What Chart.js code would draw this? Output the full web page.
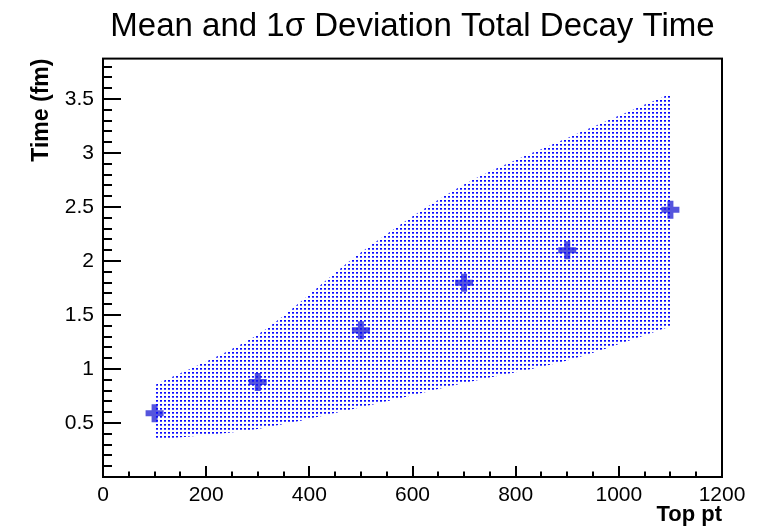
<!DOCTYPE html>
<html>
<head>
<meta charset="utf-8">
<script src="https://cdn.jsdelivr.net/npm/chart.js@4/dist/chart.umd.min.js"></script>
<style>
  body { margin: 0; background: #fff; }
</style>
</head>
<body>
<canvas id="graficoDecaimento" width="761" height="528"></canvas>
<script>
// Dados
const topPt = [100, 300, 500, 700, 900, 1100];
const tempoMedio = [0.59, 0.88, 1.36, 1.80, 2.10, 2.475];
const bandaSuperior = [0.85, 1.32, 2.08, 2.71, 3.14, 3.55];
const bandaInferior = [0.345, 0.445, 0.645, 0.87, 1.08, 1.395];
const ticksX = [0, 200, 400, 600, 800, 1000, 1200];
const ticksY = [0.5, 1, 1.5, 2, 2.5, 3, 3.5];

const fonte = "'Liberation Sans', Arial, Helvetica, sans-serif";

const canvas = document.getElementById('graficoDecaimento');
const ctx = canvas.getContext('2d');

// Padrão pontilhado (estilo ROOT)
const tile = document.createElement('canvas');
tile.width = 4;
tile.height = 4;
const tctx = tile.getContext('2d');
tctx.fillStyle = 'rgb(10,10,255)';
tctx.fillRect(0, 0, 2, 1);
tctx.fillStyle = 'rgba(10,10,255,0.7)';
tctx.fillRect(0, 1, 2, 1);
const padrao = ctx.createPattern(tile, 'repeat');

const pontos = (ys) => topPt.map((x, i) => ({ x: x, y: ys[i] }));

// Moldura e marcas internas dos eixos
const moldura = {
  id: 'moldura',
  afterDatasetsDraw(chart) {
    const { ctx, chartArea: a, scales: { x, y } } = chart;
    ctx.save();
    ctx.strokeStyle = '#000';
    ctx.lineWidth = 2;
    ctx.beginPath();
    for (let v = 0; v <= 1200; v += 50) {
      const px = Math.round(x.getPixelForValue(v));
      const len = v % 200 === 0 ? 11 : 5.5;
      ctx.moveTo(px, a.bottom);
      ctx.lineTo(px, a.bottom - len);
    }
    for (let k = 1; k <= 38; k++) {
      const v = k / 10;
      const py = Math.round(y.getPixelForValue(v));
      const len = k % 5 === 0 ? 18 : 9;
      ctx.moveTo(a.left, py);
      ctx.lineTo(a.left + len, py);
    }
    ctx.stroke();
    ctx.strokeRect(a.left, a.top, a.right - a.left, a.bottom - a.top);
    ctx.restore();
  }
};

const config = {
  type: 'line',
  data: {
    datasets: [
      {
        label: 'Superior',
        data: pontos(bandaSuperior),
        borderWidth: 0,
        pointRadius: 0,
        backgroundColor: padrao,
        fill: '+1',
        tension: 0.3
      },
      {
        label: 'Inferior',
        data: pontos(bandaInferior),
        borderWidth: 0,
        pointRadius: 0,
        fill: false,
        tension: 0.3
      },
      {
        label: 'Média',
        data: pontos(tempoMedio),
        showLine: false,
        pointStyle: 'cross',
        pointRadius: 9,
        pointBorderWidth: 6,
        pointBorderColor: 'rgba(55,55,215,0.85)',
        pointBackgroundColor: 'rgba(55,55,215,0.85)'
      }
    ]
  },
  options: {
    responsive: false,
    animation: false,
    layout: { padding: { left: 0, right: 39, top: 0, bottom: 0 } },
    plugins: {
      legend: { display: false },
      tooltip: { enabled: false },
      title: {
        display: true,
        fullSize: false,
        text: 'Mean and 1σ Deviation Total Decay Time',
        color: '#000',
        font: { family: fonte, size: 33, weight: 'normal' },
        padding: { top: 7, bottom: 12 }
      }
    },
    scales: {
      x: {
        type: 'linear',
        min: 0,
        max: 1200,
        grid: { display: false, drawTicks: false },
        border: { display: false },
        afterBuildTicks: (s) => { s.ticks = ticksX.map(v => ({ value: v })); },
        afterFit: (s) => { s.height = 51; },
        ticks: {
          color: '#000',
          padding: 6,
          maxRotation: 0,
          font: { family: fonte, size: 21 },
          callback: (v) => String(v)
        },
        title: {
          display: true,
          text: 'Top pt',
          align: 'end',
          color: '#000',
          font: { family: fonte, size: 22, weight: 'bold' },
          padding: { top: 0, bottom: 0 }
        }
      },
      y: {
        type: 'linear',
        min: 0,
        max: 3.875,
        grid: { display: false, drawTicks: false },
        border: { display: false },
        afterBuildTicks: (s) => { s.ticks = ticksY.map(v => ({ value: v })); },
        afterFit: (s) => { s.width = 103; },
        ticks: {
          color: '#000',
          padding: 9,
          font: { family: fonte, size: 21 },
          callback: (v) => String(v)
        },
        title: {
          display: true,
          text: 'Time (fm)',
          align: 'end',
          color: '#000',
          font: { family: fonte, size: 23, weight: 'bold' },
          padding: { top: 28, bottom: 0 }
        }
      }
    }
  },
  plugins: [moldura]
};

const graficoDecaimento = new Chart(ctx, config);
</script>
</body>
</html>
